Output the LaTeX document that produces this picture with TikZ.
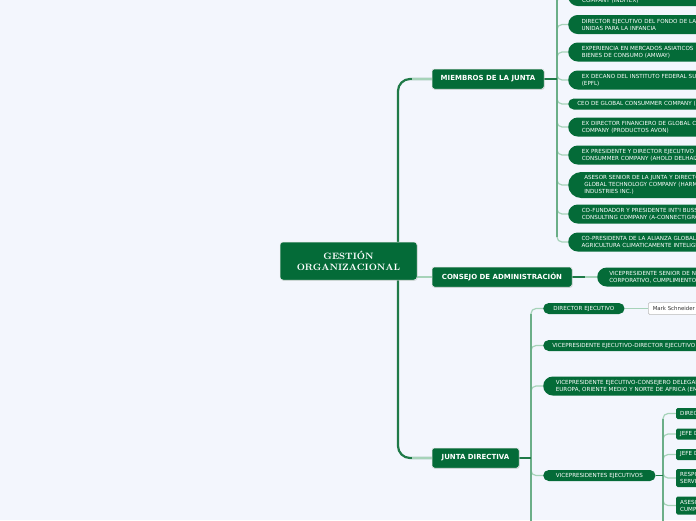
\documentclass[tikz,border=0pt]{standalone}
\usepackage{fontspec}
\newfontfamily\dv{DejaVu Sans}
\usetikzlibrary{shapes.misc,shadows}
\definecolor{bgc}{HTML}{F3F6FD}
\definecolor{ngreen}{HTML}{046B38}
\definecolor{trunkc}{HTML}{1F7A48}
\definecolor{subc}{HTML}{6BAE88}
\definecolor{stubc}{HTML}{A6D3B9}
\pgfdeclarelayer{edges}
\pgfsetlayers{edges,main}
\tikzset{
  centerbox/.style={fill=ngreen, text=white, rounded corners=3, minimum width=137, minimum height=38,
    align=center, font=\fontsize{9.2}{11}\selectfont\bfseries, draw=white!85!gray, line width=0.5,
    drop shadow={shadow xshift=0.6pt, shadow yshift=-0.8pt, opacity=0.25}},
  lvlone/.style={fill=ngreen, text=white, rounded corners=2.5, minimum height=20, inner xsep=0,
    font=\dv\bfseries\fontsize{7}{8}\selectfont, draw=white!80!gray, line width=0.5,
    drop shadow={shadow xshift=0.6pt, shadow yshift=-0.8pt, opacity=0.25}},
  pillbox/.style={rounded rectangle, fill=ngreen, text=white, inner xsep=3.5, inner ysep=0,
    font=\dv\fontsize{5.6}{7}\selectfont, align=left, anchor=west, minimum height=11},
  wide/.style={text width=#1, align=left},
  leafbox/.style={fill=ngreen, text=white, rounded corners=1.5, inner xsep=4, inner ysep=0,
    font=\dv\fontsize{5.6}{7}\selectfont, text width=40, align=left, anchor=west, minimum height=11},
  personbox/.style={fill=white, draw=gray!55, line width=0.5, rounded corners=1.5, text=black!80,
    font=\dv\fontsize{5.4}{7}\selectfont, inner xsep=4.5, inner ysep=0, minimum height=12, anchor=west},
  mainline/.style={draw=trunkc, line width=2.2, rounded corners=12},
  branchline/.style={draw=trunkc, line width=1.5},
  subline/.style={draw=stubc, line width=1.2, rounded corners=5},
  subtrunk/.style={draw=subc, line width=1.2},
  stubline/.style={draw=stubc, line width=2},
}
\begin{document}
\begin{tikzpicture}[x=1pt,y=-1pt]
\begin{pgfonlayer}{edges}
\fill[bgc] (0,0) rectangle (696,520);
\end{pgfonlayer}
\useasboundingbox (0,0) rectangle (696,520);

% level 0 and 1
\node[centerbox] (root) at (348.5,261) {GESTIÓN\\ORGANIZACIONAL};
\node[lvlone, minimum width=112] (miembros) at (488,79) {MIEMBROS DE LA JUNTA};
\node[lvlone, minimum width=140] (consejo) at (502,277) {CONSEJO DE ADMINISTRACIÓN};
\node[lvlone, minimum width=87] (junta) at (475.5,458) {JUNTA DIRECTIVA};

% miembros de la junta
\node[pillbox, wide=170, minimum height=19, inner xsep=11.5] (m1) at (568,-3.5) {\strut\\COMPANY (INDITEX)};
\node[pillbox, wide=170, minimum height=19, inner xsep=11.5] (m2) at (568,24.5) {DIRECTOR EJECUTIVO DEL FONDO DE LAS NACIONES\\UNIDAS PARA LA INFANCIA};
\node[pillbox, wide=170, minimum height=19, inner xsep=11.5] (m3) at (568,52) {EXPERIENCIA EN MERCADOS ASIATICOS\\BIENES DE CONSUMO (AMWAY)};
\node[pillbox, wide=170, minimum height=19, inner xsep=11.5] (m4) at (568,80) {EX DECANO DEL INSTITUTO FEDERAL SUIZO\\(EPFL)};
\node[pillbox, wide=170, inner xsep=8.5] (m5) at (568,104) {CEO DE GLOBAL CONSUMMER COMPANY (A};
\node[pillbox, wide=170, minimum height=19, inner xsep=11.5] (m6) at (568,127) {EX DIRECTOR FINANCIERO DE GLOBAL CONSUMMER\\COMPANY (PRODUCTOS AVON)};
\node[pillbox, wide=170, minimum height=19, inner xsep=11.5] (m7) at (568,155) {EX PRESIDENTE Y DIRECTOR EJECUTIVO DE GLOBAL\\CONSUMMER COMPANY (AHOLD DELHAIZE)};
\node[pillbox, wide=170, minimum height=26, inner xsep=12] (m8) at (568,185) {ASESOR SENIOR DE LA JUNTA Y DIRECTOR\\GLOBAL TECHNOLOGY COMPANY (HARMAN\\INDUSTRIES INC.)};
\node[pillbox, wide=170, minimum height=19, inner xsep=11.5] (m9) at (568,214) {CO-FUNDADOR Y PRESIDENTE INT'I BUSSINESS\\CONSULTING COMPANY (A-CONNECT(GROUP))};
\node[pillbox, wide=170, minimum height=19, inner xsep=11.5] (m10) at (568,242) {CO-PRESIDENTA DE LA ALIANZA GLOBAL\\AGRICULTURA CLIMATICAMENTE INTELIGENTE};

% consejo
\node[pillbox, wide=150, minimum height=19, inner xsep=10] (c1) at (597,277) {VICEPRESIDENTE SENIOR DE NEGOCIO\\CORPORATIVO, CUMPLIMIENTO};

% junta directiva
\node[pillbox, text width=61, align=center, inner xsep=9.5] (j1) at (543,308.5) {DIRECTOR EJECUTIVO};
\node[pillbox, wide=200, inner xsep=8.5] (j2) at (543,345.5) {VICEPRESIDENTE EJECUTIVO-DIRECTOR EJECUTIVO};
\node[pillbox, wide=200, minimum height=19, inner xsep=10.5] (j3) at (543,386) {VICEPRESIDENTE EJECUTIVO-CONSEJERO DELEGADO\\EUROPA, ORIENTE MEDIO Y NORTE DE AFRICA (EMEA)};
\node[pillbox, text width=89, align=center, inner xsep=11] (j4) at (543,475.5) {VICEPRESIDENTES EJECUTIVOS};
\node[personbox] (mark) at (648,308.5) {Mark Schneider};

% vicepresidentes ejecutivos
\node[leafbox] (v1) at (676,413.5) {DIRECTOR};
\node[leafbox] (v2) at (676,434) {JEFE DE};
\node[leafbox] (v3) at (676,454.5) {JEFE DE};
\node[leafbox, minimum height=18] (v4) at (676,478) {RESPONSABLE\\SERVICIOS};
\node[leafbox, minimum height=18] (v5) at (676,505.5) {ASESOR\\CUMPLIMIENTO};

\coordinate (tx) at (398,0);
\coordinate (mx) at (557,0);
\coordinate (jx) at (531,0);
\coordinate (vx) at (663,0);
\coordinate (mtop) at (557,-40);
\coordinate (jbot) at (531,560);
\coordinate (vbot) at (663,560);

\begin{pgfonlayer}{edges}
% main trunk
\draw[mainline] (root.center -| tx) |- (miembros.west);
\draw[mainline] (root.center -| tx) |- (junta.west);
\draw[stubline] (miembros.west) -- ++(-20,0);
\draw[stubline] (junta.west) -- ++(-20,0);
\draw[stubline] (root.east |- consejo.west) -- (consejo.west);
% miembros
\foreach \c in {m1,m2,m3,m4,m5,m6,m7,m8,m9,m10}
  \draw[subline] (miembros.east -| mx) |- (\c.west);
\draw[subtrunk] (mtop) -- ([yshift=5pt]m10.west -| mx);
\draw[branchline] (miembros.east) -- (miembros.east -| mx);
% consejo
\draw[branchline] (consejo.east) -- (c1.west);
\draw[stubline, line width=1.3] (c1.west) -- ++(-12,0);
% junta
\foreach \c in {j1,j2,j3,j4}
  \draw[subline] (junta.east -| jx) |- (\c.west);
\draw[subtrunk] ([yshift=-5pt]j1.west -| jx) -- (jbot);
\draw[branchline] (junta.east) -- (junta.east -| jx);
\draw[stubline, line width=1.2] (j1.east) -- (mark.west);
% vicepresidentes
\foreach \c in {v1,v2,v3,v4,v5}
  \draw[subline] (j4.east -| vx) |- (\c.west);
\draw[subtrunk] ([yshift=-5pt]v1.west -| vx) -- (vbot);
\draw[branchline] (j4.east) -- (j4.east -| vx);
\end{pgfonlayer}
\end{tikzpicture}
\end{document}
